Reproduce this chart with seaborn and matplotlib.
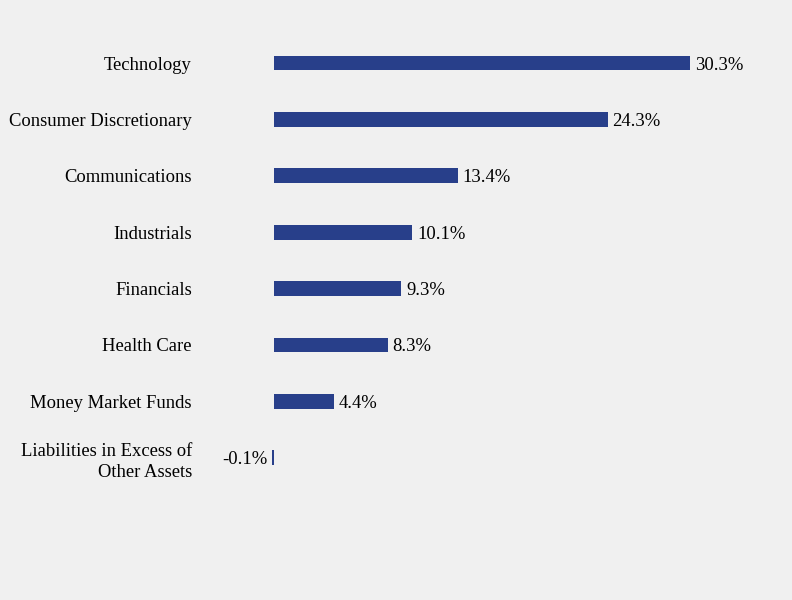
import matplotlib
matplotlib.use("Agg")
import matplotlib.pyplot as plt
import seaborn as sns

sectors = [
    "Technology",
    "Consumer Discretionary",
    "Communications",
    "Industrials",
    "Financials",
    "Health Care",
    "Money Market Funds",
    "Liabilities in Excess of\nOther Assets",
]
weights = [30.3, 24.3, 13.4, 10.1, 9.3, 8.3, 4.4, -0.1]

bg = "#f0f0f0"
bar_color = "#283f8a"

sns.set_style("white")
plt.rcParams["font.family"] = ["Liberation Serif", "DejaVu Serif"]

fig = plt.figure(figsize=(7.92, 6.0), dpi=100, facecolor=bg)
ax = fig.add_axes([260 / 792, 0.19, 500 / 792, 0.752])
ax.set_facecolor(bg)

sns.barplot(x=weights, y=sectors, color=bar_color, width=0.26,
            orient="h", ax=ax, saturation=1, linewidth=0)

ax.set_xlim(-1, 35.4)
labels = ax.bar_label(ax.containers[0], labels=[f"{v}%" for v in weights],
                      padding=3.5, fontsize=13.4, color="#000000")
for t in labels:
    t.set_va("center_baseline")

ax.set_xticks([])
ax.set_xlabel("")
ax.set_ylabel("")
ax.tick_params(axis="y", length=0, pad=49, labelsize=13.4, labelcolor="#000000")
for t in ax.get_yticklabels():
    t.set_linespacing(1.3)
for s in ax.spines.values():
    s.set_visible(False)

fig.savefig("out.png", dpi=100, facecolor=bg)
